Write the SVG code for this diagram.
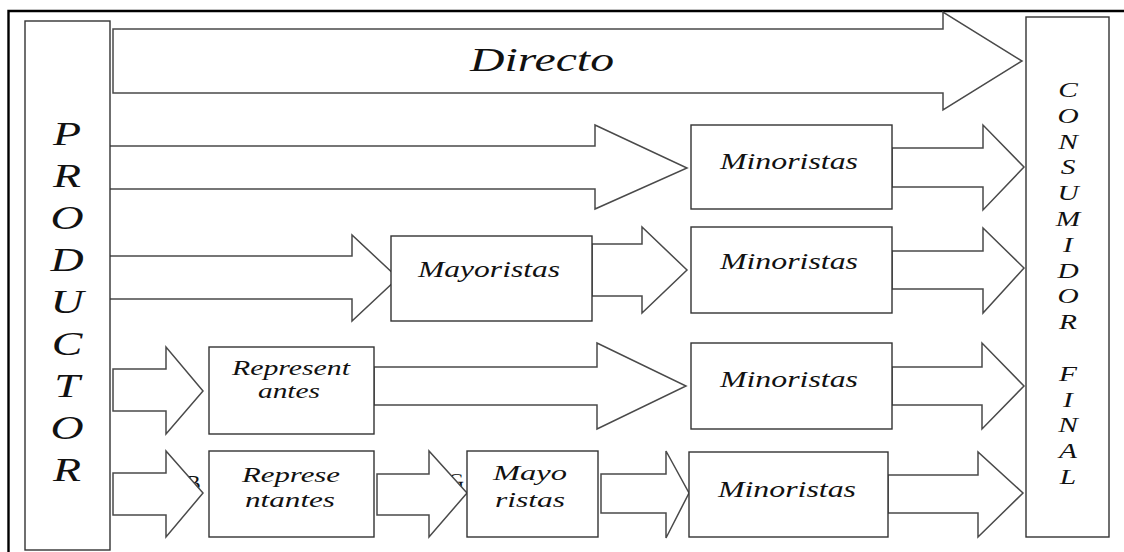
<svg xmlns="http://www.w3.org/2000/svg" width="1124" height="552" viewBox="0 0 1124 552">
<style>
.arr{fill:#fff;stroke:#4a4a4a;stroke-width:1.5;stroke-linejoin:miter}
.box{fill:#fff;stroke:#333;stroke-width:1.4}
text{font-family:'Liberation Serif','DejaVu Serif',serif;font-style:italic;fill:#111}
.v{text-anchor:middle}
.frag{font-style:normal;font-size:22px}
</style>
<rect width="1124" height="552" fill="#fff"/>
<g id="frame">
<path d="M8.5 552 V11 H1124" fill="none" stroke="#000" stroke-width="2.4"/>
</g>
<g id="fragments">
<text class="frag" x="186" y="490" font-family="Liberation Serif">B</text>
<text class="frag" x="448" y="488" font-family="Liberation Serif">G</text>
</g>
<g id="connectors">
<polygon class="arr" points="113,29 943,29 943,12 1022,61 943,110 943,93 113,93"/>
<path class="arr" d="M110,146 H595 V125 L687,168 L595,209 V189 H110"/>
<path class="arr" d="M110,256 H352 V235 L398,278 L352,321 V299 H110"/>
<polygon class="arr" points="113,369 166,369 166,347 203,391 166,434 166,411 113,411"/>
<polygon class="arr" points="113,473 166,473 166,451 203,493 166,537 166,515 113,515"/>
<polygon class="arr" points="892,148 983,148 983,125 1024,167 983,210 983,187 892,187"/>
<polygon class="arr" points="592,244 642,244 642,227 687,270 642,313 642,296 592,296"/>
<polygon class="arr" points="892,251 983,251 983,228 1024,268 983,313 983,289 892,289"/>
<polygon class="arr" points="374,367 597,367 597,343 686,386 597,429 597,405 374,405"/>
<polygon class="arr" points="892,367 982,367 982,343 1024,386 982,429 982,405 892,405"/>
<polygon class="arr" points="377,474 429,474 429,451 467,493 429,537 429,515 377,515"/>
<polygon class="arr" points="601,474 666,474 666,451 689,493 666,538 666,513 601,513"/>
<polygon class="arr" points="888,475 978,475 978,452 1023,493 978,537 978,513 888,513"/>
<text x="470" y="71" font-family="Liberation Serif" font-size="34" textLength="144" lengthAdjust="spacingAndGlyphs">Directo</text>
</g>
<g id="productor">
<rect class="box" x="25" y="21" width="85" height="529"/>
<g class="v" font-size="34" font-family="Liberation Serif" transform="translate(67,0) scale(1.35,1) translate(-67,0)">
<text class="v" x="67" y="145">P</text>
<text class="v" x="67" y="187">R</text>
<text class="v" x="67" y="229">O</text>
<text class="v" x="67" y="271">D</text>
<text class="v" x="67" y="313">U</text>
<text class="v" x="67" y="355">C</text>
<text class="v" x="67" y="397">T</text>
<text class="v" x="67" y="439">O</text>
<text class="v" x="67" y="481">R</text>
</g>
</g>
<g id="consumidor">
<rect class="box" x="1026" y="17" width="83" height="520"/>
<g font-size="21" font-family="Liberation Serif" transform="translate(1068,0) scale(1.4,1) translate(-1068,0)">
<text class="v" x="1068" y="97">C</text>
<text class="v" x="1068" y="122.8">O</text>
<text class="v" x="1068" y="148.6">N</text>
<text class="v" x="1068" y="174.4">S</text>
<text class="v" x="1068" y="200.2">U</text>
<text class="v" x="1068" y="226">M</text>
<text class="v" x="1068" y="251.8">I</text>
<text class="v" x="1068" y="277.6">D</text>
<text class="v" x="1068" y="303.4">O</text>
<text class="v" x="1068" y="329.2">R</text>
<text class="v" x="1068" y="380.8">F</text>
<text class="v" x="1068" y="406.6">I</text>
<text class="v" x="1068" y="432.4">N</text>
<text class="v" x="1068" y="458.2">A</text>
<text class="v" x="1068" y="484">L</text>
</g>
</g>
<g id="minoristas1">
<rect class="box" x="691" y="125" width="201" height="84"/>
<text x="720" y="169" font-size="24" textLength="138" lengthAdjust="spacingAndGlyphs">Minoristas</text>
</g>
<g id="minoristas2">
<rect class="box" x="691" y="227" width="201" height="86"/>
<text x="720" y="269" font-size="24" textLength="138" lengthAdjust="spacingAndGlyphs">Minoristas</text>
</g>
<g id="mayoristas">
<rect class="box" x="391" y="236" width="201" height="85"/>
<text x="418" y="277" font-size="24" textLength="142" lengthAdjust="spacingAndGlyphs">Mayoristas</text>
</g>
<g id="representantes1">
<rect class="box" x="209" y="347" width="165" height="87"/>
<text x="232" y="375" font-size="21" textLength="118" lengthAdjust="spacingAndGlyphs">Represent</text>
<text x="258" y="398" font-size="21" textLength="62" lengthAdjust="spacingAndGlyphs">antes</text>
</g>
<g id="minoristas3">
<rect class="box" x="691" y="343" width="201" height="86"/>
<text x="720" y="387" font-size="24" textLength="138" lengthAdjust="spacingAndGlyphs">Minoristas</text>
</g>
<g id="representantes2">
<rect class="box" x="209" y="451" width="165" height="86"/>
<text x="242" y="482" font-size="22" textLength="98" lengthAdjust="spacingAndGlyphs">Represe</text>
<text x="245" y="507" font-size="22" textLength="90" lengthAdjust="spacingAndGlyphs">ntantes</text>
</g>
<g id="mayoristas2">
<rect class="box" x="467" y="451" width="131" height="86"/>
<text x="493" y="480" font-size="22" textLength="74" lengthAdjust="spacingAndGlyphs">Mayo</text>
<text x="495" y="507" font-size="22" textLength="70" lengthAdjust="spacingAndGlyphs">ristas</text>
</g>
<g id="minoristas4">
<rect class="box" x="689" y="452" width="199" height="85"/>
<text x="718" y="497" font-size="24" textLength="138" lengthAdjust="spacingAndGlyphs">Minoristas</text>
</g>
</svg>
